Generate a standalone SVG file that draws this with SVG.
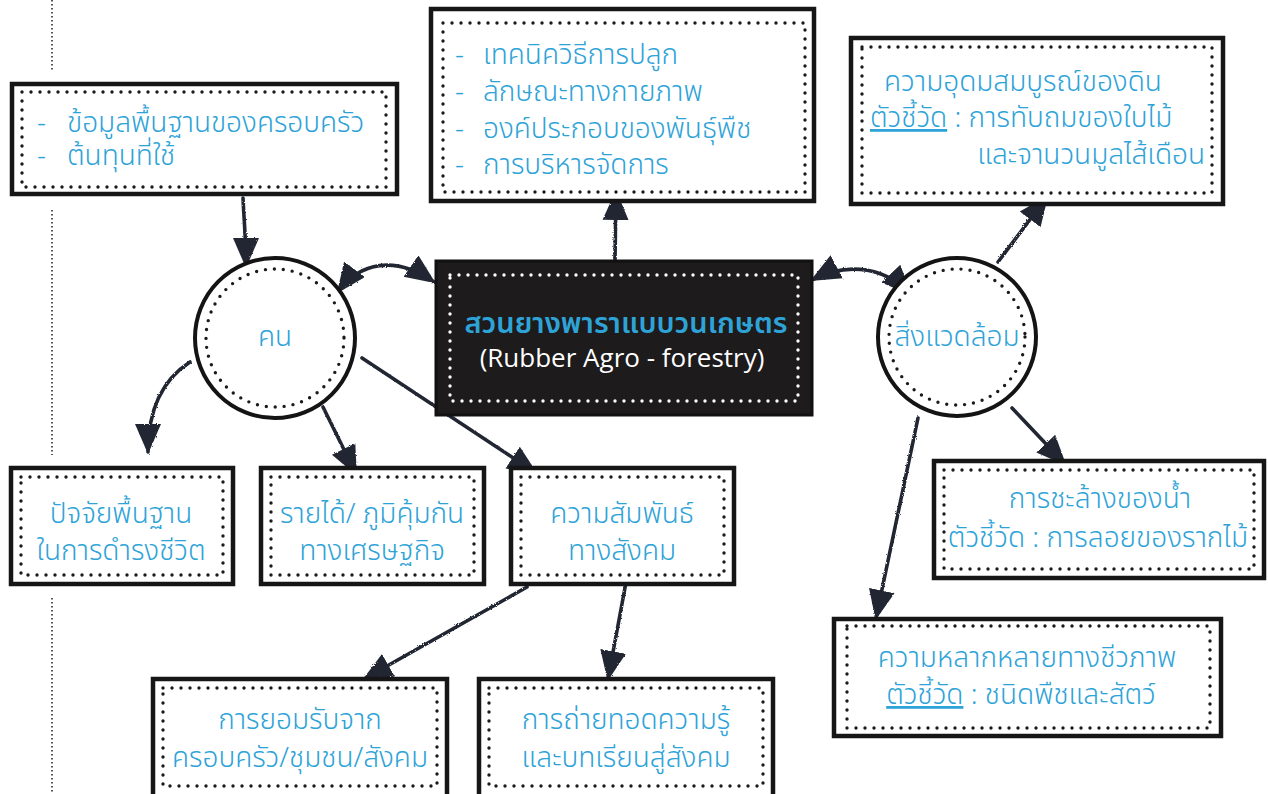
<svg xmlns="http://www.w3.org/2000/svg" width="1268" height="794" viewBox="0 0 1268 794">
<style>
.box{fill:#fff;stroke:#161616;stroke-width:4.5}
.dots{fill:none;stroke:#1a1a1a;stroke-width:3.4;stroke-dasharray:0 9;stroke-linecap:round}
.wdots{fill:none;stroke:#fff;stroke-width:3.4;stroke-dasharray:0 9;stroke-linecap:round}
.ring{fill:#fff;stroke:#141414;stroke-width:4}
.t{font-family:"Noto Sans Thai","Noto Sans",sans-serif;font-size:28px;fill:#2ea3d8;font-weight:300}
.mid{text-anchor:middle}
.u{text-decoration:underline}
.conn path{fill:none;stroke:#212833;stroke-width:3.6;stroke-linecap:round}
.vline{stroke:#555;stroke-width:2;stroke-dasharray:1.5 2.5}
</style>
<defs>
<marker id="ah" viewBox="0 0 30 28" refX="28" refY="14" markerWidth="30" markerHeight="28" markerUnits="userSpaceOnUse" orient="auto-start-reverse">
<path d="M0,1 L30,14 L0,27 Z" fill="#212833"/>
</marker>
<filter id="rough" x="-5%" y="-5%" width="110%" height="110%">
<feTurbulence type="fractalNoise" baseFrequency="0.9" numOctaves="2" result="n"/>
<feDisplacementMap in="SourceGraphic" in2="n" scale="2.5"/>
</filter>
</defs>
<rect width="1268" height="794" fill="#fff"/>
<g id="guide">
<line class="vline" x1="52" y1="0" x2="52" y2="72"/>
<line class="vline" x1="52" y1="210" x2="52" y2="455"/>
<line class="vline" x1="52" y1="598" x2="52" y2="794"/>
</g>

<g class="conn" filter="url(#rough)">
<path d="M243 198 C244 220 246 240 246 266" marker-end="url(#ah)"/>
<path d="M338 292 C360 262 395 255 434 282" marker-start="url(#ah)" marker-end="url(#ah)"/>
<path d="M615 260 L616 192" marker-end="url(#ah)"/>
<path d="M812 280 C840 265 880 262 910 294" marker-start="url(#ah)" marker-end="url(#ah)"/>
<path d="M998 262 L1047 197" marker-end="url(#ah)"/>
<path d="M190 362 C162 380 148 410 148 452" marker-end="url(#ah)"/>
<path d="M323 407 L356 474" marker-end="url(#ah)"/>
<path d="M362 358 L536 473" marker-end="url(#ah)"/>
<path d="M1012 408 L1065 464" marker-end="url(#ah)"/>
<path d="M918 418 L876 618" marker-end="url(#ah)"/>
<path d="M527 587 L364 679" marker-end="url(#ah)"/>
<path d="M627 577 L608 679" marker-end="url(#ah)"/>
</g>

<g id="family">
<rect class="box" x="12" y="84" width="385" height="110"/>
<rect class="dots" x="22" y="92" width="364" height="95"/>
<text class="t" y="132" font-size="29"><tspan x="37">-</tspan><tspan x="67">ข้อมูลพื้นฐานของครอบครัว</tspan></text>
<text class="t" y="165" font-size="29"><tspan x="37">-</tspan><tspan x="67">ต้นทุนที่ใช้</tspan></text>
</g>

<g id="plant">
<rect class="box" x="431" y="9" width="383" height="192"/>
<rect class="dots" x="443" y="23" width="362" height="169"/>
<text class="t" y="64"><tspan x="455">-</tspan><tspan x="483">เทคนิควิธีการปลูก</tspan></text>
<text class="t" y="101"><tspan x="455">-</tspan><tspan x="483">ลักษณะทางกายภาพ</tspan></text>
<text class="t" y="138"><tspan x="455">-</tspan><tspan x="483">องค์ประกอบของพันธุ์พืช</tspan></text>
<text class="t" y="174"><tspan x="455">-</tspan><tspan x="483">การบริหารจัดการ</tspan></text>
</g>

<g id="soil">
<rect class="box" x="851" y="38" width="372" height="166"/>
<rect class="dots" x="862" y="47" width="350" height="146"/>
<text class="t mid" x="1023" y="91">ความอุดมสมบูรณ์ของดิน</text>
<text class="t" x="870" y="127"><tspan class="u">ตัวชี้วัด</tspan> : การทับถมของใบไม้</text>
<text class="t" x="1205" y="164" text-anchor="end">และจานวนมูลไส้เดือน</text>
</g>

<g id="center">
<rect x="436" y="261" width="376" height="154" fill="#1d1b1b" stroke="#111" stroke-width="3"/>
<rect class="wdots" x="450" y="275" width="348" height="126"/>
<text x="626" y="333" text-anchor="middle" font-family="'Noto Sans Thai','Noto Sans',sans-serif" font-size="29" font-weight="600" fill="#2ea3d8">สวนยางพาราแบบวนเกษตร</text>
<text x="622" y="367" text-anchor="middle" font-family="'Open Sans','Liberation Sans',sans-serif" font-size="26" fill="#fff">(Rubber Agro - forestry)</text>
</g>

<g id="people">
<circle class="ring" cx="275" cy="338" r="80"/>
<circle class="dots" cx="275" cy="338" r="69"/>
<text class="t mid" x="275" y="346">คน</text>
</g>

<g id="environment">
<circle class="ring" cx="957" cy="337" r="79"/>
<circle class="dots" cx="957" cy="337" r="68"/>
<text class="t mid" x="957" y="346">สิ่งแวดล้อม</text>
</g>

<g id="basic">
<rect class="box" x="11" y="468" width="222" height="116"/>
<rect class="dots" x="21" y="477" width="202" height="98"/>
<text class="t mid" x="121" y="523">ปัจจัยพื้นฐาน</text>
<text class="t mid" x="121" y="560">ในการดำรงชีวิต</text>
</g>

<g id="income">
<rect class="box" x="261" y="468" width="223" height="116"/>
<rect class="dots" x="271" y="477" width="203" height="98"/>
<text class="t mid" x="372" y="523">รายได้/ ภูมิคุ้มกัน</text>
<text class="t mid" x="372" y="560">ทางเศรษฐกิจ</text>
</g>

<g id="social">
<rect class="box" x="511" y="468" width="223" height="116"/>
<rect class="dots" x="521" y="477" width="203" height="98"/>
<text class="t mid" x="622" y="523">ความสัมพันธ์</text>
<text class="t mid" x="622" y="560">ทางสังคม</text>
</g>

<g id="water">
<rect class="box" x="934" y="461" width="330" height="117"/>
<rect class="dots" x="944" y="470" width="310" height="99"/>
<text class="t mid" x="1100" y="508">การชะล้างของน้ำ</text>
<text class="t mid" x="1098" y="547">ตัวชี้วัด : การลอยของรากไม้</text>
</g>

<g id="biodiversity">
<rect class="box" x="834" y="619" width="387" height="117"/>
<rect class="dots" x="847" y="626" width="363" height="102"/>
<text class="t mid" x="1027" y="667">ความหลากหลายทางชีวภาพ</text>
<text class="t mid" x="1021" y="704"><tspan class="u">ตัวชี้วัด</tspan> : ชนิดพืชและสัตว์</text>
</g>

<g id="acceptance">
<rect class="box" x="153" y="679" width="294" height="130"/>
<rect class="dots" x="163" y="688" width="274" height="98"/>
<text class="t mid" x="300" y="729">การยอมรับจาก</text>
<text class="t mid" x="300" y="767">ครอบครัว/ชุมชน/สังคม</text>
</g>

<g id="knowledge">
<rect class="box" x="479" y="679" width="294" height="130"/>
<rect class="dots" x="489" y="688" width="274" height="98"/>
<text class="t mid" x="626" y="729">การถ่ายทอดความรู้</text>
<text class="t mid" x="626" y="767">และบทเรียนสู่สังคม</text>
</g>
</svg>
